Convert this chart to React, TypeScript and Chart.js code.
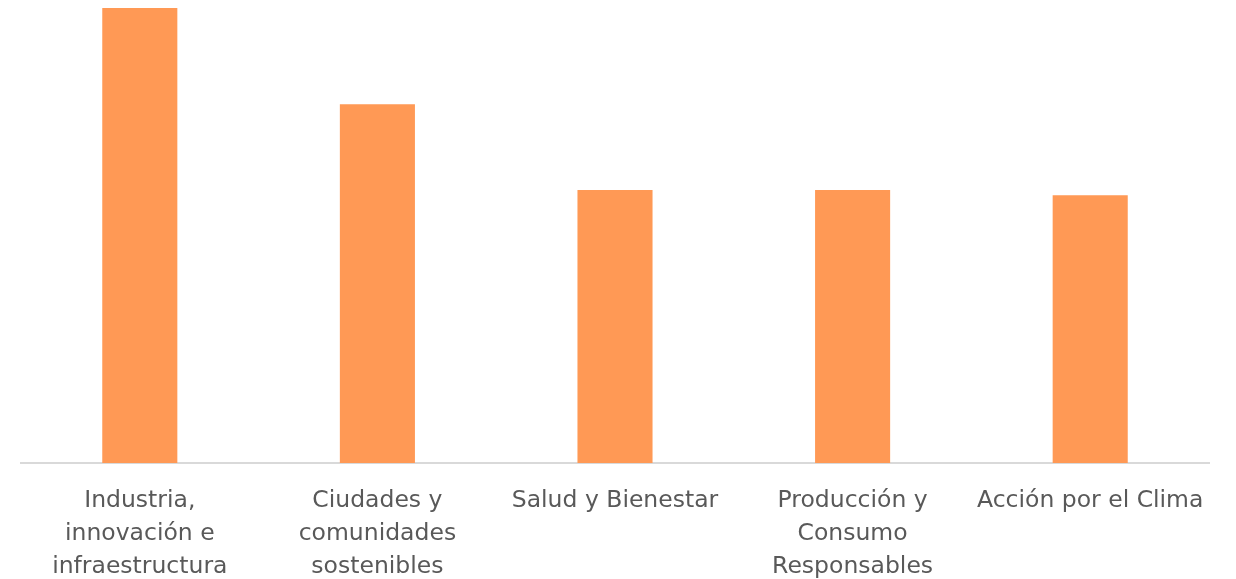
import React, { useEffect, useRef } from "react";
import { Chart, registerables } from "chart.js";

Chart.register(...registerables);

const categories: string[][] = [
  ["Industria,", "innovación e", "infraestructura"],
  ["Ciudades y", "comunidades", "sostenibles"],
  ["Salud y Bienestar"],
  ["Producción y", "Consumo", "Responsables"],
  ["Acción por el Clima"],
];
const values: number[] = [17, 13.4, 10.2, 10.2, 10];

export default function App() {
  const ref = useRef<HTMLCanvasElement | null>(null);
  useEffect(() => {
    if (!ref.current) return;
    const chart = new Chart(ref.current, {
      type: "bar",
      data: {
        labels: categories,
        datasets: [
          {
            data: values,
            backgroundColor: "#FF9955",
            borderWidth: 0,
            categoryPercentage: 1,
            barPercentage: 0.316,
          },
        ],
      },
      options: {
        animation: false,
        responsive: true,
        maintainAspectRatio: false,
        layout: { padding: { left: 13, right: 19, top: 0, bottom: 0 } },
        plugins: { legend: { display: false }, tooltip: { enabled: false } },
        scales: {
          x: {
            grid: { display: false, drawTicks: false },
            border: { display: true, color: "#D9D9D9", width: 2 },
            ticks: {
              color: "#595959",
              padding: 21,
              maxRotation: 0,
              autoSkip: false,
              font: { family: "'DejaVu Sans'", size: 23.5, lineHeight: 1.404 },
            },
          },
          y: {
            display: false,
            min: 0,
            max: 17,
          },
        },
      },
    });
    return () => chart.destroy();
  }, []);
  return (
    <div style={{ position: "relative", width: "1220px", height: "596px" }}>
      <canvas ref={ref} />
    </div>
  );
}
